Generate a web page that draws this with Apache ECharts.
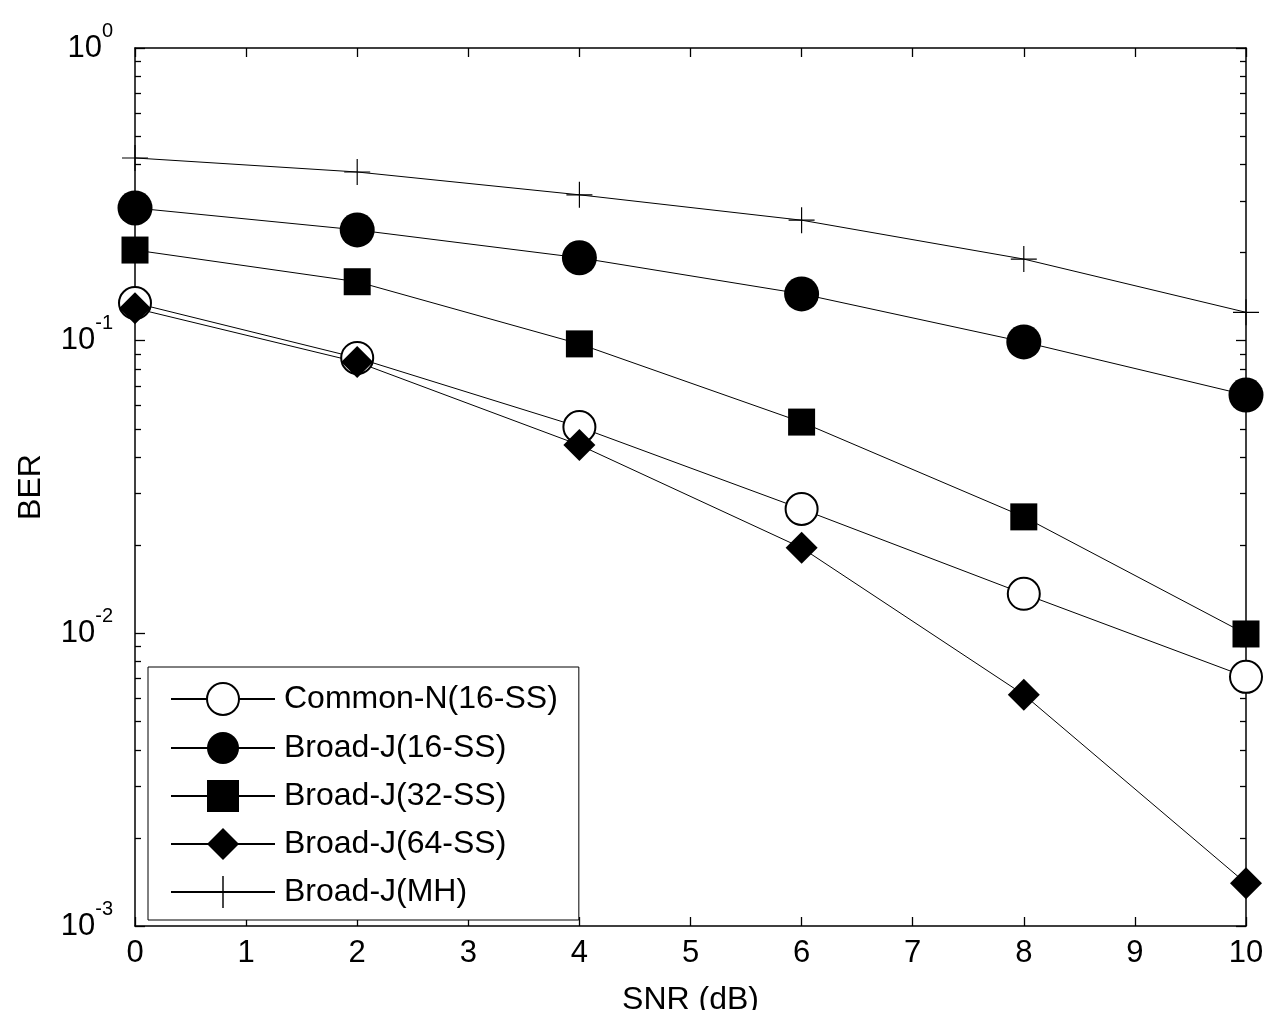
<!DOCTYPE html>
<html>
<head>
<meta charset="utf-8">
<script src="https://cdn.jsdelivr.net/npm/echarts@6/dist/echarts.min.js"></script>
<style>
html,body{margin:0;padding:0;background:#fff;}
#chart{width:1268px;height:1010px;}
</style>
</head>
<body>
<div id="chart"></div>
<script>
// ---- data ----
var snr = [0, 2, 4, 6, 8, 10];
var commonN16 = [0.1345, 0.0873, 0.0507, 0.0266, 0.01365, 0.0071];
var broadJ16 = [0.284, 0.239, 0.192, 0.1445, 0.099, 0.0652];
var broadJ32 = [0.204, 0.159, 0.0975, 0.0527, 0.0250, 0.00995];
var broadJ64 = [0.129, 0.0845, 0.0440, 0.0196, 0.00617, 0.0014];
var broadJMH = [0.421, 0.377, 0.315, 0.258, 0.190, 0.125];
var seriesNames = ['Common-N(16-SS)', 'Broad-J(16-SS)', 'Broad-J(32-SS)', 'Broad-J(64-SS)', 'Broad-J(MH)'];
var xTicks = [0, 1, 2, 3, 4, 5, 6, 7, 8, 9, 10];
var yMajor = [0.001, 0.01, 0.1, 1];

// minor log ticks 2..9 per decade
var yMinor = [];
for (var d = -3; d < 0; d++) {
  for (var k = 2; k <= 9; k++) yMinor.push(+(k * Math.pow(10, d)).toPrecision(3));
}

function pairs(ys) { return snr.map(function (x, i) { return [x, ys[i]]; }); }

var FONT = '"Liberation Sans", Arial, Helvetica, sans-serif';
var PLUS = 'path://M-0.045,-1 L0.045,-1 L0.045,1 L-0.045,1 Z M-1,-0.045 L1,-0.045 L1,0.045 L-1,0.045 Z';

var lineStyle = { color: '#000', width: 1 };
function mk(name, data, symbol, size, extra) {
  var s = {
    name: name, type: 'line', data: pairs(data),
    xAxisIndex: 0, yAxisIndex: 0,
    symbol: symbol, symbolSize: size,
    lineStyle: lineStyle,
    itemStyle: { color: '#000' },
    emphasis: { disabled: true },
    animation: false
  };
  if (extra) for (var k in extra) s[k] = extra[k];
  return s;
}

var chart = echarts.init(document.getElementById('chart'), null, { renderer: 'canvas', width: 1268, height: 1010 });

var grid = { left: 135, right: 22, top: 48, bottom: 84, containLabel: false, outerBoundsMode: 'none' };

function yAxisCfg(pos, ticks, len, showLabel, showLine) {
  var a = {
    type: 'log', min: 0.001, max: 1, logBase: 10, position: pos,
    axisLine: { show: showLine, onZero: false, lineStyle: { color: '#000', width: 1.5 } },
    axisTick: { show: true, inside: true, length: len, customValues: ticks, lineStyle: { color: '#000', width: 1.3 } },
    axisLabel: { show: false },
    splitLine: { show: false },
    minorTick: { show: false }
  };
  if (showLabel) {
    a.axisLabel = {
      show: true, margin: 22, customValues: yMajor,
      formatter: function (v) {
        var e = Math.round(Math.log10(v));
        return '{b|10}{s|' + e + '}';
      },
      rich: {
        b: { fontSize: 31, fontFamily: FONT, color: '#000', lineHeight: 54, verticalAlign: 'middle' },
        s: { fontSize: 20, fontFamily: FONT, color: '#000', verticalAlign: 'top' }
      }
    };
    a.name = 'BER';
    a.nameLocation = 'middle';
    a.nameGap = 88;
    a.nameTextStyle = { fontSize: 32, fontFamily: FONT, color: '#000' };
  }
  return a;
}

var option = {
  backgroundColor: '#fff',
  animation: false,
  grid: grid,
  xAxis: [
    {
      type: 'value', min: 0, max: 10, interval: 1, position: 'bottom',
      name: 'SNR (dB)', nameLocation: 'middle', nameGap: 58,
      nameTextStyle: { fontSize: 32, fontFamily: FONT, color: '#000' },
      axisLine: { show: true, onZero: false, lineStyle: { color: '#000', width: 1.5 } },
      axisTick: { show: true, inside: true, length: 9, lineStyle: { color: '#000', width: 1.3 } },
      axisLabel: { show: true, margin: 12, fontSize: 31, fontFamily: FONT, color: '#000', customValues: xTicks },
      splitLine: { show: false }
    },
    {
      type: 'value', min: 0, max: 10, interval: 1, position: 'top',
      axisLine: { show: true, onZero: false, lineStyle: { color: '#000', width: 1.5 } },
      axisTick: { show: true, inside: true, length: 9, lineStyle: { color: '#000', width: 1.3 } },
      axisLabel: { show: false },
      splitLine: { show: false }
    }
  ],
  yAxis: [
    yAxisCfg('left', yMajor, 10, true, true),
    yAxisCfg('left', yMinor, 6, false, false),
    yAxisCfg('right', yMajor, 10, false, true),
    yAxisCfg('right', yMinor, 6, false, false)
  ],
  legend: {
    show: true,
    orient: 'vertical',
    left: 148, top: 667,
    padding: [15, 21, 12, 22],
    itemWidth: 104, itemHeight: 40, itemGap: 16,
    backgroundColor: '#fff',
    borderColor: '#000', borderWidth: 1, borderRadius: 0,
    selectedMode: false,
    textStyle: { fontSize: 32, fontFamily: FONT, color: '#000', padding: [0, 0, 0, 4] },
    data: seriesNames
  },
  series: [
    mk(seriesNames[0], commonN16, 'emptyCircle', 32, { itemStyle: { color: '#000', borderWidth: 1 } }),
    mk(seriesNames[1], broadJ16, 'circle', 35),
    mk(seriesNames[2], broadJ32, 'rect', 27),
    mk(seriesNames[3], broadJ64, 'diamond', [32, 32]),
    mk(seriesNames[4], broadJMH, PLUS, 26)
  ]
};

chart.setOption(option);
</script>
</body>
</html>
